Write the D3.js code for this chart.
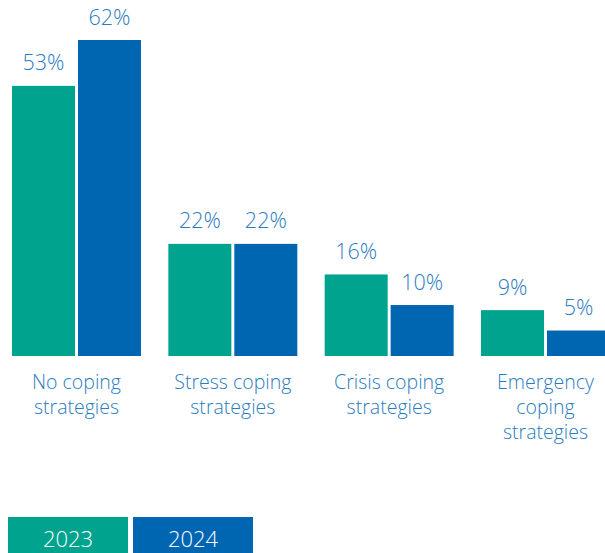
<!DOCTYPE html>
<html><head><meta charset="utf-8">
<script src="https://cdn.jsdelivr.net/npm/d3@7"></script>
<style>html,body{margin:0;padding:0;background:#fff;overflow:hidden}</style>
</head><body>
<script>
const categories = [["No coping","strategies"],["Stress coping","strategies"],["Crisis coping","strategies"],["Emergency","coping","strategies"]];
const years = ["2023","2024"];
const values2023 = [53, 22, 16, 9];
const values2024 = [62, 22, 10, 5];
const colors = ["#00A38E","#0066B2"];

const W = 605, H = 553;
const svg = d3.select("body").append("svg").attr("width", W).attr("height", H)
  .style("font-family", "'Open Sans', Lato, sans-serif")
  .style("font-weight", 300);

const catKeys = categories.map(c => c.join(" "));
const x0 = d3.scaleBand().domain(catKeys).range([12, 610]).paddingInner(0.175).paddingOuter(0);
const x1 = d3.scaleBand().domain(years).range([0, x0.bandwidth()]).paddingInner(0.045);
const y = d3.scaleLinear().domain([0, 62]).range([356, 40]);

const data = catKeys.map((k, i) => ({key: k, lines: categories[i], vals: [values2023[i], values2024[i]]}));

const g = svg.selectAll("g.grp").data(data).join("g").attr("class","grp")
  .attr("transform", d => `translate(${x0(d.key)},0)`);

g.selectAll("rect").data(d => d.vals.map((v, j) => ({v, yr: years[j], j}))).join("rect")
  .attr("x", d => x1(d.yr)).attr("width", x1.bandwidth())
  .attr("y", d => y(d.v)).attr("height", d => y(0) - y(d.v))
  .attr("fill", d => colors[d.j]);

g.selectAll("text.val").data(d => d.vals.map((v, j) => ({v, yr: years[j], j}))).join("text")
  .attr("class","val")
  .attr("x", d => x1(d.yr) + x1.bandwidth()/2)
  .attr("y", d => y(d.v) - 15.5)
  .attr("text-anchor","middle").attr("font-size", 21.5).attr("fill","#2A7CC0")
  .text(d => d.v + "%");

g.each(function(d) {
  const t = d3.select(this).append("text").attr("text-anchor","middle")
    .attr("font-size", 19.5).attr("fill","#2A7CC0");
  d.lines.forEach((ln, i) => {
    t.append("tspan").attr("x", x0.bandwidth()/2).attr("y", 388.5 + i*25).text(ln);
  });
});

// legend
const leg = svg.selectAll("g.leg").data(years).join("g").attr("class","leg")
  .attr("transform", (d, i) => `translate(${8 + i*125},517)`);
leg.append("rect").attr("width", 120).attr("height", 36).attr("fill", (d, i) => colors[i]);
leg.append("text").attr("x", 60).attr("y", 29.5).attr("text-anchor","middle")
  .attr("font-size", 22).attr("fill","#fff").text(d => d);
</script>
</body></html>
